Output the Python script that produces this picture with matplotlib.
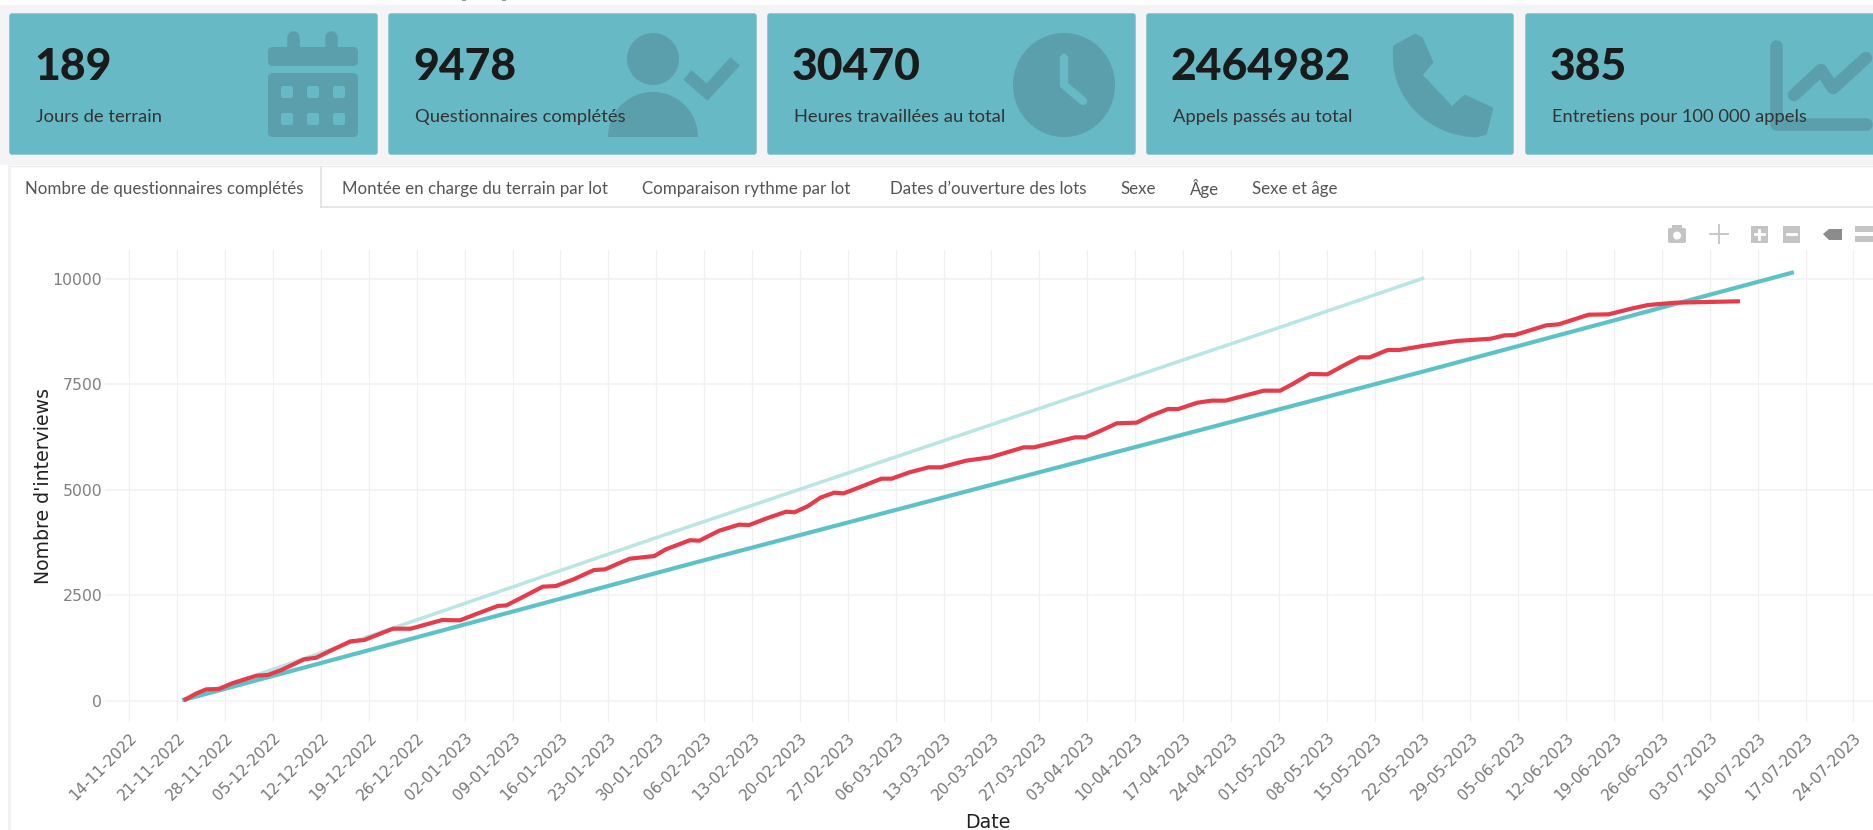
import numpy as np
import pandas as pd
import matplotlib
matplotlib.use("Agg")
import matplotlib.pyplot as plt
from matplotlib.patches import Rectangle, FancyBboxPatch, Ellipse, Polygon, Wedge, PathPatch
from matplotlib.path import Path

W, H = 1874, 830

# days counted from 14-11-2022
debut = pd.Timestamp('2022-11-14')
tick_dates = pd.date_range('2022-11-14', '2023-07-24', freq='7D')

red_days = [8.2, 9.8, 11.2, 13.1, 15, 18.6, 20.2, 22.2, 25.5, 27.3, 29.4, 32.3, 34.3, 38.5, 41.1, 45.7, 48.3,
            50.3, 53.8, 55.1, 57.4, 60.4, 62.3, 64.9, 67.9, 69.5, 73.1, 76.7, 78.4, 81.9, 83.3, 86.2, 89.1,
            90.6, 93.4, 96, 97.2, 99.2, 101, 103, 104.4, 106.7, 109.9, 111.4, 114, 116.8, 118.6, 122.3, 125.8,
            128.1, 130.7, 132.2, 135.6, 138.2, 139.7, 142, 144.3, 147.2, 149.2, 151.8, 153.3, 156.1, 158.2,
            160.2, 162.8, 165.8, 168.2, 170.2, 172.5, 175.1, 177.8, 179.8, 181.3, 183.9, 185.6, 189, 194, 199,
            201, 202.5, 207.1, 208.9, 213.3, 216.2, 219.7, 222, 226, 235.1]
red_values = [40, 181, 275, 285, 418, 599, 615, 733, 986, 1025, 1191, 1412, 1443, 1711, 1711, 1917, 1909,
              2035, 2248, 2264, 2453, 2706, 2721, 2879, 3100, 3116, 3368, 3430, 3590, 3805, 3795, 4031, 4174,
              4166, 4339, 4481, 4466, 4616, 4813, 4931, 4915, 5057, 5262, 5262, 5412, 5531, 5531, 5689, 5767,
              5878, 6004, 6004, 6138, 6241, 6241, 6399, 6572, 6588, 6746, 6911, 6911, 7061, 7109,
              7109, 7219, 7345, 7345, 7519, 7740, 7732, 7969, 8134, 8134, 8308, 8308, 8403, 8521, 8576,
              8655, 8663, 8892, 8915, 9144, 9152, 9294, 9373, 9428, 9460]

teal_days = [8, 83, 189, 243]
teal_values = [30, 3290, 7794, 10137]
light_days = [8, 76, 167, 189]
light_values = [30, 3811, 8781, 10000]

card_numbers = ['189', '9478', '30470', '2464982', '385']
card_labels = ['Jours de terrain', 'Questionnaires complétés', 'Heures travaillées au total',
               'Appels passés au total', 'Entretiens pour 100 000 appels']
card_left = [9, 388, 767, 1146, 1525]
card_right = [378, 757, 1136, 1514, 1885]

tabs = ['Nombre de questionnaires complétés', 'Montée en charge du terrain par lot',
        'Comparaison rythme par lot', "Dates d’ouverture des lots", 'Sexe', 'Âge', 'Sexe et âge']
tab_x = [25, 342, 642, 890, 1120, 1190, 1252]

yticks = [0, 2500, 5000, 7500, 10000]

CARD = '#66b9c5'
ICON = '#5a9fab'
FONT = 'Lato'

fig = plt.figure(figsize=(W / 100, H / 100), dpi=100, facecolor='white')

# page drawn in pixel coords
bg = fig.add_axes([0, 0, 1, 1])
bg.set_xlim(0, W)
bg.set_ylim(H, 0)
bg.axis('off')

bg.add_patch(Rectangle((0, 5), W, 160, color='#f4f3f5', lw=0))
bg.add_patch(Rectangle((8, 165), 3, H, color='#f1f0f2', lw=0))
bg.plot([11, W], [166, 166], color='#ececec', lw=1)
bg.add_patch(Rectangle((462, 0), 4, 1.5, color='#999999', lw=0))
bg.add_patch(Rectangle((502, 0), 4, 1.5, color='#999999', lw=0))
for l, r in zip(card_left, card_right):
    bg.add_patch(FancyBboxPatch((l + 1, 14), r - l - 2, 140, boxstyle='round,pad=0,rounding_size=2', facecolor=CARD,
                                edgecolor=CARD, lw=1, zorder=1))

# calendrier
bg.add_patch(FancyBboxPatch((268, 47), 90, 19, boxstyle='round,pad=0,rounding_size=5', color=ICON, lw=0, zorder=2))
bg.add_patch(FancyBboxPatch((268, 73), 90, 64, boxstyle='round,pad=0,rounding_size=5', color=ICON, lw=0, zorder=2))
for px in [293, 331]:
    bg.plot([px, px], [37, 50], color=ICON, lw=9, solid_capstyle='round', zorder=2)
for px in [287, 313, 339]:
    for py in [92, 119]:
        bg.add_patch(FancyBboxPatch((px - 6, py - 6), 12, 12, boxstyle='round,pad=0,rounding_size=2', color=CARD, lw=0,
                                    zorder=3))

# personne
bg.add_patch(Ellipse((653, 59), 52, 52, color=ICON, lw=0, zorder=2))
bg.add_patch(Wedge((653, 137), 45, 180, 360, color=ICON, lw=0, zorder=2))
bg.plot([692, 707, 731], [79, 92, 66], color=ICON, lw=9, solid_joinstyle='miter', zorder=2)

# horloge
bg.add_patch(Ellipse((1064, 85), 102, 104, color=ICON, lw=0, zorder=2))
bg.plot([1064, 1064, 1083], [58, 85, 101], color=CARD, lw=6, solid_capstyle='round', zorder=3)

# telephone
tel = [(1395, 47), (1415, 36), (1421, 39), (1431, 62), (1420, 75), (1452, 109), (1465, 97), (1491, 109), (1485, 133),
       (1477, 135), (1432, 135), (1395, 100), (1395, 57), (1395, 47)]
tel_codes = [Path.MOVETO] + [Path.LINETO] * 9 + [Path.CURVE4] * 3 + [Path.CLOSEPOLY]
bg.add_patch(PathPatch(Path(tel, tel_codes), facecolor=ICON, edgecolor=ICON, lw=3, joinstyle='round', zorder=2))

# courbe
bg.plot([1776, 1776, 1866], [46, 124, 124], color=ICON, lw=9, solid_capstyle='round', zorder=2)
bg.plot([1794, 1821, 1833, 1866], [95, 70, 88, 58], color=ICON, lw=9, solid_capstyle='round', zorder=2)

for l, num, lab in zip(card_left, card_numbers, card_labels):
    bg.text(l + 25, 67, num, family=FONT, fontweight='black', fontsize=32, color='#1a1a1a', va='center', ha='left',
            zorder=5)
    bg.text(l + 27, 117, lab, family=FONT, fontsize=13.2, color='#333333', va='center', ha='left', zorder=5)

# onglets
bg.plot([321, W], [207, 207], color='#e2e2e2', lw=1.2)
bg.plot([321, 321], [167, 207], color='#e2e2e2', lw=1.2)
for i, (x, t) in enumerate(zip(tab_x, tabs)):
    bg.text(x, 189, t, family=FONT, fontsize=12.2, color='#555555', va='center', ha='left')

# barre plotly
TOOL = '#c4c4c4'
bg.add_patch(FancyBboxPatch((1668, 228), 18, 15, boxstyle='round,pad=0,rounding_size=2', color=TOOL, lw=0))
bg.add_patch(Rectangle((1672, 225), 10, 4, color=TOOL, lw=0))
bg.add_patch(Ellipse((1677, 235.5), 8, 8, color='white', lw=0))
bg.plot([1719, 1719], [225, 243], color=TOOL, lw=1.3)
bg.plot([1710, 1728], [234, 234], color=TOOL, lw=1.3)
bg.add_patch(Rectangle((1751, 226), 17, 17, color=TOOL, lw=0))
bg.plot([1755, 1764], [234.5, 234.5], color='white', lw=2)
bg.plot([1759.5, 1759.5], [230, 239], color='white', lw=2)
bg.add_patch(Rectangle((1783, 226), 17, 17, color=TOOL, lw=0))
bg.plot([1787, 1796], [234.5, 234.5], color='white', lw=2)
bg.add_patch(Polygon([(1823, 234), (1829, 229), (1842, 229), (1842, 240), (1829, 240)], closed=True, color='#8c8c8c',
                     lw=0))
bg.add_patch(Rectangle((1855, 226), 19, 6, color=TOOL, lw=0))
bg.add_patch(Rectangle((1855, 236), 19, 6, color=TOOL, lw=0))

bg.text(44, 486, "Nombre d'interviews", rotation=90, fontsize=13.6, color='#222222', va='center', ha='center',
        family='DejaVu Sans')
bg.text(988, 828, 'Date', fontsize=13.6, color='#222222', va='baseline', ha='center', family='DejaVu Sans')

# graphique
x0, x1 = 105, W
y0, y1 = 250, 722
ax = fig.add_axes([x0 / W, 1 - y1 / H, (x1 - x0) / W, (y1 - y0) / H])
ax.patch.set_alpha(0)


def dd(days):
    return debut + pd.to_timedelta(np.array(days, dtype=float), unit='D')


ax.plot(dd(light_days), light_values, color='#b9e5e3', lw=2.5, zorder=3)
ax.plot(dd(teal_days), teal_values, color='#5cc2c8', lw=3, zorder=4)
ax.plot(dd(red_days), red_values, color='#e53b4a', lw=3, zorder=5)

ax.set_xlim(dd([-3.58])[0], dd([255])[0])
ax.set_ylim(-497, 10675)
ax.set_xticks(tick_dates)
ax.set_xticklabels([d.strftime('%d-%m-%Y') for d in tick_dates], rotation=45, ha='right', rotation_mode='anchor',
                   fontsize=11, color='#777777')
ax.set_yticks(yticks)
ax.set_yticklabels([str(v) for v in yticks], fontsize=11.3, color='#808080')
ax.tick_params(length=0, axis='both')
ax.tick_params(axis='x', pad=6)
ax.tick_params(axis='y', pad=2)
ax.grid(axis='x', color='#f0f0f0', lw=0.9)
ax.grid(axis='y', color='#f3f3f3', lw=1.3)
ax.set_axisbelow(True)
for s in ax.spines.values():
    s.set_visible(False)

fig.savefig('out.png', dpi=100)
